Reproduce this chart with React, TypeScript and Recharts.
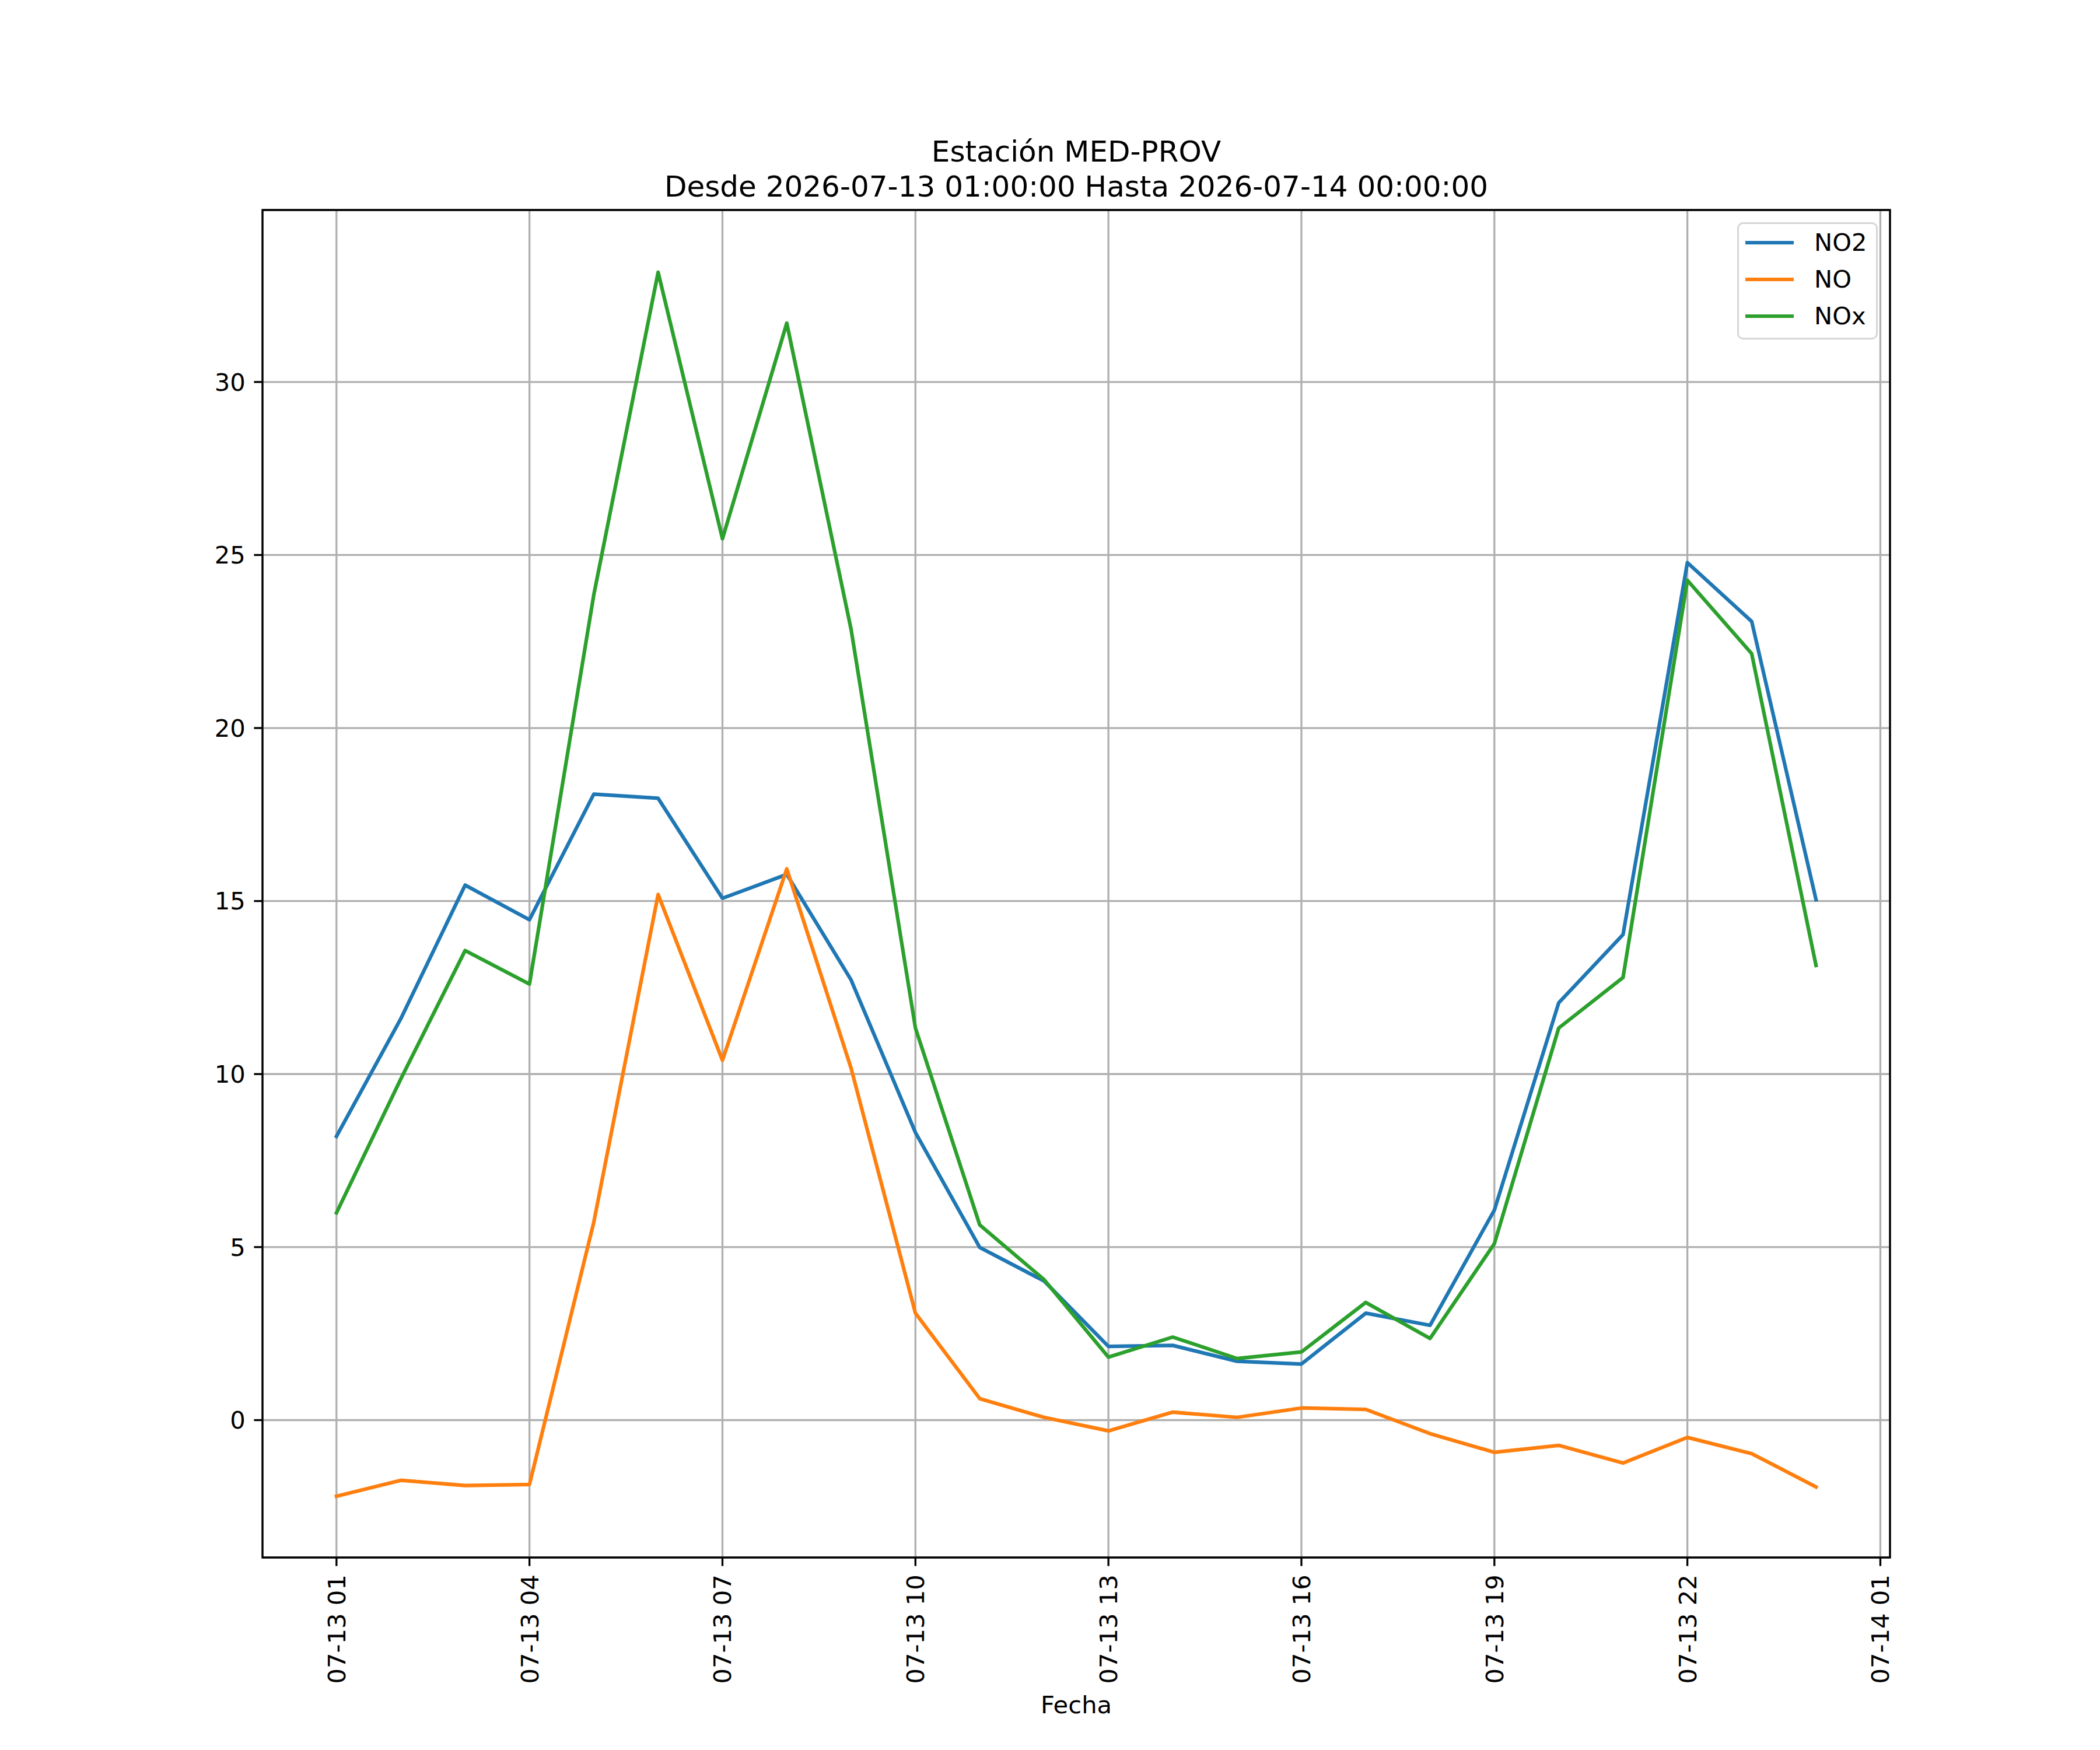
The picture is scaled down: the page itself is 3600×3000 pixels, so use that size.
import { LineChart, Line, XAxis, YAxis, CartesianGrid, Legend, ReferenceArea } from 'recharts'

// hours since 2026-07-13 01:00
const hours = [
  '01', '02', '03', '04', '05', '06', '07', '08', '09', '10', '11', '12',
  '13', '14', '15', '16', '17', '18', '19', '20', '21', '22', '23', '00',
]
const no2 = [
  8.2, 11.6, 15.46, 14.46, 18.09, 17.97, 15.08, 15.77, 12.72, 8.31, 4.99, 4.02,
  2.13, 2.16, 1.7, 1.62, 3.09, 2.74, 6.07, 12.06, 14.03, 24.78, 23.08, 15.04,
]
const no = [
  -2.2, -1.74, -1.89, -1.86, 5.72, 15.19, 10.4, 15.93, 10.17, 3.09, 0.62, 0.08,
  -0.31, 0.23, 0.08, 0.35, 0.31, -0.39, -0.93, -0.73, -1.24, -0.5, -0.97, -1.93,
]
const nox = [
  5.99, 9.86, 13.57, 12.6, 23.85, 33.17, 25.47, 31.7, 22.85, 11.33, 5.64, 4.06,
  1.82, 2.4, 1.78, 1.97, 3.4, 2.36, 5.1, 11.33, 12.79, 24.27, 22.15, 13.14,
]
const xTicks = [0, 3, 6, 9, 12, 15, 18, 21, 24]
const xTickLabels = [
  '07-13 01', '07-13 04', '07-13 07', '07-13 10', '07-13 13',
  '07-13 16', '07-13 19', '07-13 22', '07-14 01',
]
const yTicks = [0, 5, 10, 15, 20, 25, 30]

const series = [
  { key: 'NO2', color: '#1f77b4' },
  { key: 'NO', color: '#ff7f0e' },
  { key: 'NOx', color: '#2ca02c' },
]

const data = hours.map((hh, i) => ({ h: i, hour: hh, NO2: no2[i], NO: no[i], NOx: nox[i] }))

const FONT = '"DejaVu Sans", sans-serif'
const FS = 41.67
const LW = 6.25
const THIN = 3.33
const X_DOMAIN = [-1.15, 24.15]
const Y_DOMAIN = [-3.97, 34.97]

function XTick(props: any) {
  const { x, y, payload } = props
  const idx = xTicks.indexOf(payload.value)
  return (
    <g transform={`translate(${x},${y})`}>
      <text transform="rotate(-90)" textAnchor="end" dy="0.36em" fontSize={FS} fontFamily={FONT} fill="#000">
        {xTickLabels[idx]}
      </text>
    </g>
  )
}

function LegendBox() {
  return (
    <div
      style={{
        position: 'relative',
        width: 241,
        height: 201,
        boxSizing: 'border-box',
        border: `${THIN}px solid #d6d6d6`,
        borderRadius: 10,
        background: 'rgba(255,255,255,0.8)',
        fontFamily: FONT,
        fontSize: FS,
        color: '#000',
      }}
    >
      {series.map((s, i) => (
        <div key={s.key} style={{ position: 'absolute', left: 11, top: 32 + i * 63 - 21, height: 42, display: 'flex', alignItems: 'center' }}>
          <div style={{ width: 83, height: LW, background: s.color }} />
          <div style={{ marginLeft: 35, lineHeight: 1 }}>{s.key}</div>
        </div>
      ))}
    </div>
  )
}

export default function App() {
  return (
    <div style={{ position: 'absolute', left: 0, top: 0, width: 3600, height: 3000, background: '#fff' }}>
      <div
        style={{
          position: 'absolute',
          left: 1845,
          top: 230,
          transform: 'translateX(-50%)',
          fontFamily: FONT,
          fontSize: 50,
          lineHeight: '60px',
          textAlign: 'center',
          whiteSpace: 'nowrap',
          color: '#000',
        }}
      >
        <div>Estación MED-PROV</div>
        <div>Desde 2026-07-13 01:00:00 Hasta 2026-07-14 00:00:00</div>
      </div>
      <LineChart
        width={3600}
        height={3000}
        data={data}
        margin={{ top: 360, right: 360, bottom: 80, left: 350 }}
      >
        <CartesianGrid stroke="#b0b0b0" strokeWidth={THIN} />
        <XAxis
          dataKey="h"
          type="number"
          domain={X_DOMAIN}
          ticks={xTicks}
          interval={0}
          height={250}
          axisLine={false}
          tickLine={{ stroke: '#000', strokeWidth: THIN }}
          tickSize={14.6}
          tickMargin={14.6}
          tick={<XTick />}
        />
        <YAxis
          type="number"
          domain={Y_DOMAIN}
          ticks={yTicks}
          interval={0}
          width={100}
          axisLine={false}
          tickLine={{ stroke: '#000', strokeWidth: THIN }}
          tickSize={14.6}
          tickMargin={14.6}
          tick={{ fill: '#000', fontSize: FS, fontFamily: FONT }}
        />
        {series.map((s) => (
          <Line
            key={s.key}
            dataKey={s.key}
            name={s.key}
            stroke={s.color}
            strokeWidth={LW}
            strokeLinejoin="round"
            strokeLinecap="square"
            dot={false}
            activeDot={false}
            isAnimationActive={false}
          />
        ))}
        <ReferenceArea
          x1={X_DOMAIN[0]}
          x2={X_DOMAIN[1]}
          y1={Y_DOMAIN[0]}
          y2={Y_DOMAIN[1]}
          fill="none"
          fillOpacity={0}
          stroke="#000"
          strokeWidth={THIN}
        />
        <Legend
          layout="horizontal"
          align="center"
          verticalAlign="middle"
          content={<LegendBox />}
          wrapperStyle={{ left: 2978, top: 381, width: 241, height: 201 }}
        />
      </LineChart>
      <div
        style={{
          position: 'absolute',
          left: 1845,
          top: 2902,
          transform: 'translateX(-50%)',
          fontFamily: FONT,
          fontSize: FS,
          lineHeight: 1,
          color: '#000',
        }}
      >
        Fecha
      </div>
    </div>
  )
}
